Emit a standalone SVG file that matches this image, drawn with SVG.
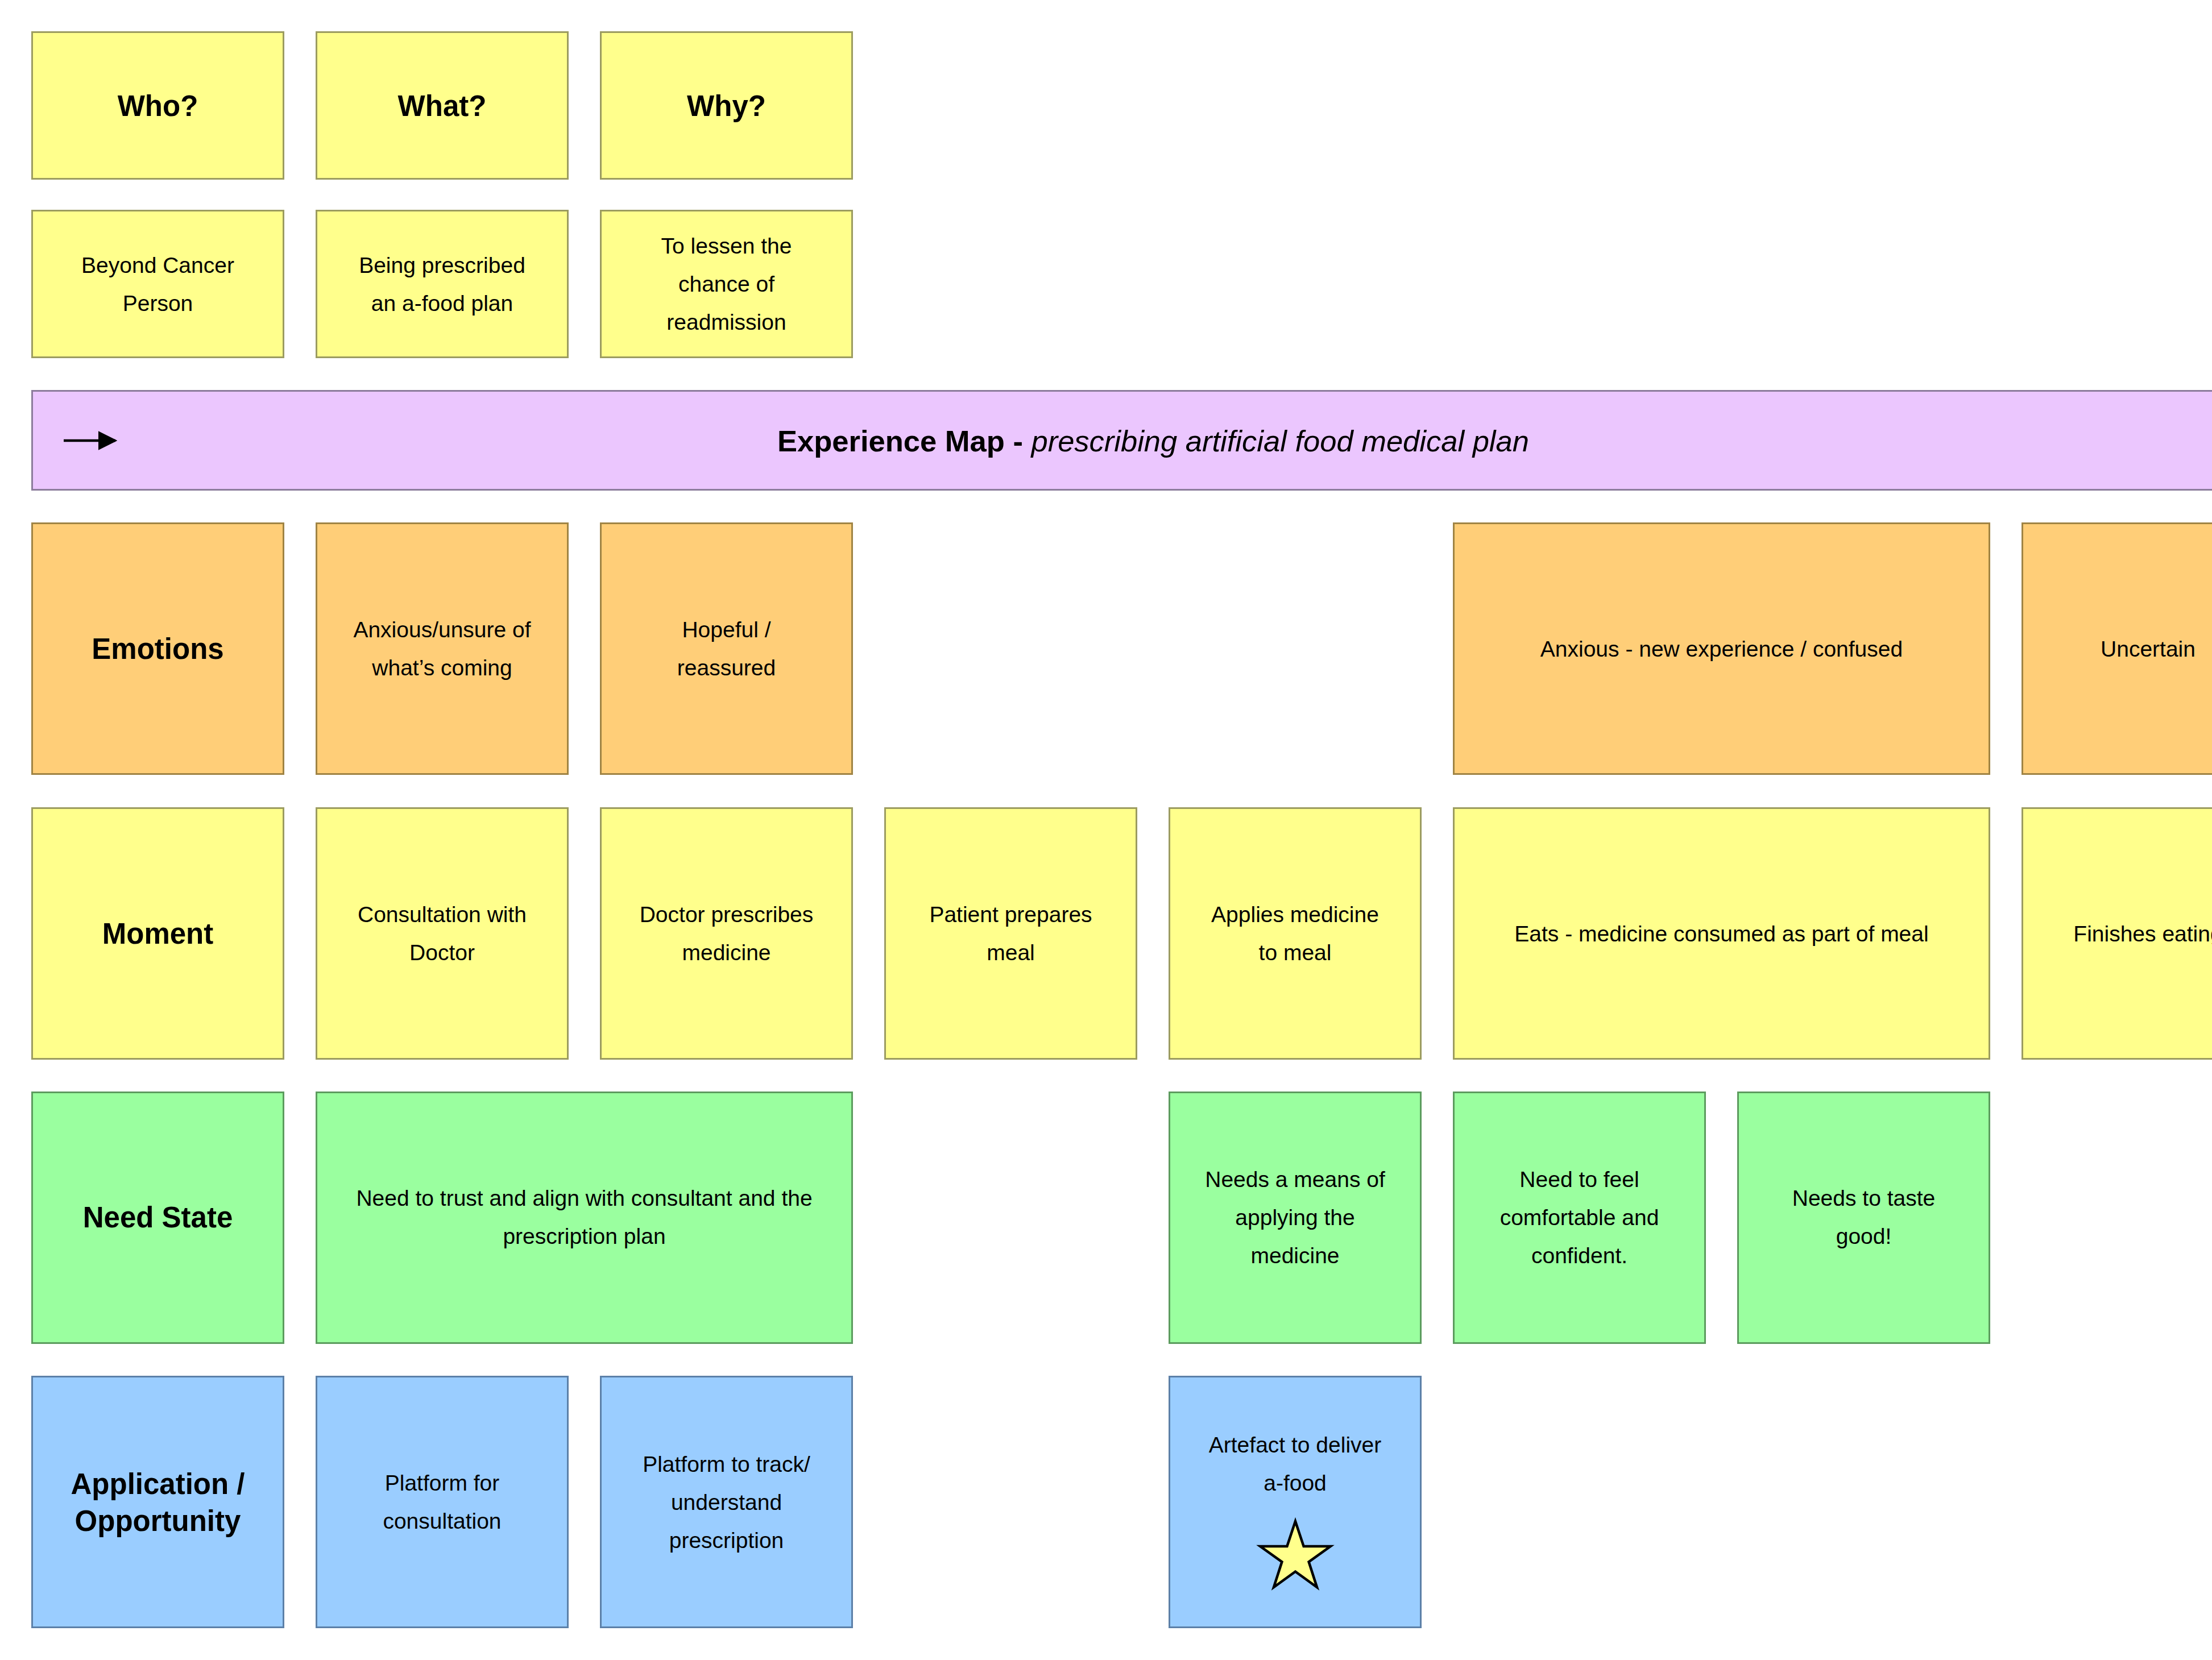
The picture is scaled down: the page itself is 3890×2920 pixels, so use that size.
<svg xmlns="http://www.w3.org/2000/svg" width="3890" height="2920" viewBox="0 0 3890 2920">
<defs>
<style>
text{font-family:"Liberation Sans",Arial,Helvetica,sans-serif;fill:#000;text-anchor:middle}
.t{font-size:39px}
.b{font-size:51px;font-weight:bold}
.y{fill:#ffff8c;stroke:#9c9c60;stroke-width:3}
.o{fill:#ffce78;stroke:#a08444;stroke-width:3}
.g{fill:#9aff9f;stroke:#5c9c5e;stroke-width:3}
.bl{fill:#9acdff;stroke:#5c80a8;stroke-width:3}
.p{fill:#ebc6fe;stroke:#8c7c9c;stroke-width:3}
</style>
<marker id="ah" viewBox="0 0 10 10" refX="9" refY="5" markerWidth="7.5" markerHeight="7.5" markerUnits="strokeWidth" orient="auto">
<path d="M0,0 L10,5 L0,10 z" fill="#000"/>
</marker>
</defs>
<rect width="3890" height="2920" fill="#fff"/>

<g id="who"><rect class="y" x="56.5" y="56.5" width="442" height="258"/><text class="b" x="277.5" y="204">Who?</text></g>
<g id="what"><rect class="y" x="556.5" y="56.5" width="442" height="258"/><text class="b" x="777.5" y="204">What?</text></g>
<g id="why"><rect class="y" x="1056.5" y="56.5" width="442" height="258"/><text class="b" x="1277.5" y="204">Why?</text></g>

<g id="who-ans"><rect class="y" x="56.5" y="370.5" width="442" height="258"/><text class="t" x="277.5" y="480">Beyond Cancer</text><text class="t" x="277.5" y="547">Person</text></g>
<g id="what-ans"><rect class="y" x="556.5" y="370.5" width="442" height="258"/><text class="t" x="777.5" y="480">Being prescribed</text><text class="t" x="777.5" y="547">an a-food plan</text></g>
<g id="why-ans"><rect class="y" x="1056.5" y="370.5" width="442" height="258"/><text class="t" x="1277.5" y="446">To lessen the</text><text class="t" x="1277.5" y="513">chance of</text><text class="t" x="1277.5" y="580">readmission</text></g>

<g id="banner"><rect class="p" x="56.5" y="687.5" width="3960" height="174"/>
<text x="2028" y="794" style="font-size:52.5px"><tspan font-weight="bold">Experience Map - </tspan><tspan font-style="italic">prescribing artificial food medical plan</tspan></text></g>

<g id="emotions"><rect class="o" x="56.5" y="920.5" width="442" height="441"/><text class="b" x="277.5" y="1159">Emotions</text></g>
<g id="emo-1"><rect class="o" x="556.5" y="920.5" width="442" height="441"/><text class="t" x="777.5" y="1121">Anxious/unsure of</text><text class="t" x="777.5" y="1188">what’s coming</text></g>
<g id="emo-2"><rect class="o" x="1056.5" y="920.5" width="442" height="441"/><text class="t" x="1277.5" y="1121">Hopeful /</text><text class="t" x="1277.5" y="1188">reassured</text></g>
<g id="emo-3"><rect class="o" x="2556.5" y="920.5" width="942" height="441"/><text class="t" x="3027.5" y="1155">Anxious - new experience / confused</text></g>
<g id="emo-4"><rect class="o" x="3556.5" y="920.5" width="442" height="441"/><text class="t" x="3777.5" y="1155">Uncertain</text></g>

<g id="moment"><rect class="y" x="56.5" y="1421.5" width="442" height="441"/><text class="b" x="277.5" y="1660">Moment</text></g>
<g id="mom-1"><rect class="y" x="556.5" y="1421.5" width="442" height="441"/><text class="t" x="777.5" y="1622">Consultation with</text><text class="t" x="777.5" y="1689">Doctor</text></g>
<g id="mom-2"><rect class="y" x="1056.5" y="1421.5" width="442" height="441"/><text class="t" x="1277.5" y="1622">Doctor prescribes</text><text class="t" x="1277.5" y="1689">medicine</text></g>
<g id="mom-3"><rect class="y" x="1556.5" y="1421.5" width="442" height="441"/><text class="t" x="1777.5" y="1622">Patient prepares</text><text class="t" x="1777.5" y="1689">meal</text></g>
<g id="mom-4"><rect class="y" x="2056.5" y="1421.5" width="442" height="441"/><text class="t" x="2277.5" y="1622">Applies medicine</text><text class="t" x="2277.5" y="1689">to meal</text></g>
<g id="mom-5"><rect class="y" x="2556.5" y="1421.5" width="942" height="441"/><text class="t" x="3027.5" y="1656">Eats - medicine consumed as part of meal</text></g>
<g id="mom-6"><rect class="y" x="3556.5" y="1421.5" width="442" height="441"/><text class="t" x="3777.5" y="1656">Finishes eating</text></g>

<g id="need"><rect class="g" x="56.5" y="1921.5" width="442" height="441"/><text class="b" x="277.5" y="2159">Need State</text></g>
<g id="need-1"><rect class="g" x="556.5" y="1921.5" width="942" height="441"/><text class="t" x="1027.5" y="2121">Need to trust and align with consultant and the</text><text class="t" x="1027.5" y="2188">prescription plan</text></g>
<g id="need-2"><rect class="g" x="2056.5" y="1921.5" width="442" height="441"/><text class="t" x="2277.5" y="2088">Needs a means of</text><text class="t" x="2277.5" y="2155">applying the</text><text class="t" x="2277.5" y="2222">medicine</text></g>
<g id="need-3"><rect class="g" x="2556.5" y="1921.5" width="442" height="441"/><text class="t" x="2777.5" y="2088">Need to feel</text><text class="t" x="2777.5" y="2155">comfortable and</text><text class="t" x="2777.5" y="2222">confident.</text></g>
<g id="need-4"><rect class="g" x="3056.5" y="1921.5" width="442" height="441"/><text class="t" x="3277.5" y="2121">Needs to taste</text><text class="t" x="3277.5" y="2188">good!</text></g>

<g id="app"><rect class="bl" x="56.5" y="2421.5" width="442" height="441"/><text class="b" x="277.5" y="2628">Application /</text><text class="b" x="277.5" y="2693">Opportunity</text></g>
<g id="app-1"><rect class="bl" x="556.5" y="2421.5" width="442" height="441"/><text class="t" x="777.5" y="2622">Platform for</text><text class="t" x="777.5" y="2689">consultation</text></g>
<g id="app-2"><rect class="bl" x="1056.5" y="2421.5" width="442" height="441"/><text class="t" x="1277.5" y="2589">Platform to track/</text><text class="t" x="1277.5" y="2656">understand</text><text class="t" x="1277.5" y="2723">prescription</text></g>
<g id="app-3"><rect class="bl" x="2056.5" y="2421.5" width="442" height="441"/><text class="t" x="2277.5" y="2555">Artefact to deliver</text><text class="t" x="2277.5" y="2622">a-food</text>
<polygon points="2278,2676 2292.6,2720 2339.8,2720 2301.6,2747.3 2316,2792 2278,2764.5 2240,2792 2254.4,2747.3 2216.2,2720 2263.4,2720" fill="#ffff8c" stroke="#000" stroke-width="4.5" stroke-linejoin="miter"/></g>

<g id="connectors"><line x1="112" y1="775" x2="203" y2="775" stroke="#000" stroke-width="4.5" marker-end="url(#ah)"/></g>
</svg>
